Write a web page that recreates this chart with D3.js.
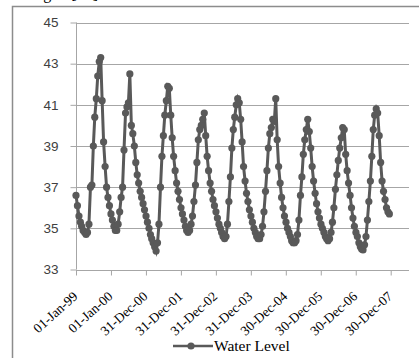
<!DOCTYPE html>
<html>
<head>
<meta charset="utf-8">
<script src="https://cdn.jsdelivr.net/npm/d3@7"></script>
<style>
  body { margin: 0; background: #fff; }
  svg { display: block; }
</style>
</head>
<body>
<svg id="chart"></svg>
<script>
// readings on the 1st and 16th of every month, Jan..Dec
var level1999 = [36.6, 36.1, 35.6, 35.3, 35.1, 34.9, 34.8, 34.7, 34.8, 35.2, 37.0, 37.1,
                 39.0, 40.4, 41.3, 42.4, 43.1, 43.3, 41.2, 39.2, 38.0, 37.0, 36.5, 36.1];
var level2000 = [35.7, 35.4, 35.1, 34.9, 34.9, 35.2, 35.8, 36.5, 37.0, 38.8, 40.6, 40.9,
                 41.1, 42.5, 40.0, 39.6, 39.0, 38.2, 37.6, 37.2, 36.8, 36.5, 36.2, 35.9];
var level2001 = [35.6, 35.3, 35.0, 34.7, 34.5, 34.3, 34.1, 33.9, 34.3, 35.2, 37.0, 38.5,
                 39.5, 40.5, 41.2, 41.9, 41.8, 40.5, 39.4, 38.5, 37.8, 37.2, 36.8, 36.4];
var level2002 = [36.0, 35.7, 35.4, 35.1, 34.9, 34.8, 34.9, 35.2, 35.6, 36.3, 37.1, 38.2,
                 39.3, 39.8, 40.0, 40.3, 40.6, 39.5, 38.5, 37.8, 37.2, 36.8, 36.4, 36.1];
var level2003 = [35.8, 35.5, 35.2, 35.0, 34.8, 34.6, 34.5, 34.6, 35.2, 36.3, 37.5, 38.9,
                 39.8, 40.4, 41.0, 41.3, 41.1, 40.3, 39.2, 38.0, 37.3, 36.7, 36.3, 35.9];
var level2004 = [35.6, 35.3, 35.0, 34.8, 34.6, 34.5, 34.5, 34.7, 35.1, 35.8, 36.8, 37.8,
                 38.9, 39.6, 39.9, 40.3, 40.2, 41.3, 39.3, 38.0, 37.2, 36.5, 36.0, 35.6];
var level2005 = [35.3, 35.0, 34.8, 34.6, 34.4, 34.3, 34.3, 34.4, 34.7, 35.4, 36.6, 37.5,
                 38.6, 39.3, 39.8, 40.3, 39.7, 38.9, 38.0, 37.3, 36.7, 36.2, 35.8, 35.5];
var level2006 = [35.2, 35.0, 34.8, 34.6, 34.5, 34.4, 34.5, 34.8, 35.3, 36.0, 36.9, 37.6,
                 38.3, 38.9, 39.4, 39.9, 39.8, 38.6, 37.8, 37.2, 36.6, 36.0, 35.5, 35.1];
var level2007 = [34.8, 34.6, 34.3, 34.1, 34.0, 33.95, 34.2, 34.6, 35.4, 36.3, 37.3, 38.5,
                 39.8, 40.5, 40.8, 40.6, 39.5, 38.2, 37.3, 36.8, 36.4, 36.0, 35.8, 35.7];

var years = [1999, 2000, 2001, 2002, 2003, 2004, 2005, 2006, 2007];
var levelsByYear = [level1999, level2000, level2001, level2002, level2003,
                    level2004, level2005, level2006, level2007];

var xTickLabels = ["01-Jan-99", "01-Jan-00", "31-Dec-00", "31-Dec-01", "31-Dec-02",
                   "31-Dec-03", "30-Dec-04", "30-Dec-05", "30-Dec-06", "30-Dec-07"];
var yTicks = [33, 35, 37, 39, 41, 43, 45];
var seriesName = "Water Level";

var width = 419, height = 358;
var svg = d3.select("#chart").attr("width", width).attr("height", height);

// build the point table
var data = [];
years.forEach(function(yr, k) {
    levelsByYear[k].forEach(function(v, i) {
        data.push({ date: new Date(yr, Math.floor(i / 2), i % 2 ? 16 : 1), value: v });
    });
});

var parse = d3.timeParse("%d-%b-%y");
var tickDates = xTickLabels.map(function(s) { return parse(s); });
var start = tickDates[0];

var x = d3.scaleTime()
    .domain([start, d3.timeDay.offset(start, 3476)])
    .range([76, 409]);
var y = d3.scaleLinear()
    .domain([33, 45])
    .range([269.5, 22.5]);

// chart area border (partly cut off)
svg.append("path")
    .attr("d", "M12.5," + height + "V6.5H" + width)
    .attr("fill", "none")
    .attr("stroke", "#8c8c8c")
    .attr("stroke-width", 1.5);

// caption above the chart, only its descenders are visible
svg.append("text")
    .attr("x", 30).attr("y", -1)
    .style("font-family", "'Liberation Serif', 'Times New Roman', serif")
    .style("font-size", "16px")
    .text("Fig. 7          [13].");

// gridlines
svg.append("g")
    .selectAll("line")
    .data(yTicks.slice(1))
    .join("line")
    .attr("x1", 76).attr("x2", 409)
    .attr("y1", function(d) { return Math.round(y(d)) + 0.5; })
    .attr("y2", function(d) { return Math.round(y(d)) + 0.5; })
    .attr("stroke", "#a6a6a6")
    .attr("stroke-width", 1);

// Y axis
var yAxis = svg.append("g")
    .attr("transform", "translate(76.5,0)")
    .call(d3.axisLeft(y).tickValues(yTicks).tickSize(6).tickPadding(12).tickFormat(d3.format("d")));
yAxis.select(".domain").attr("stroke", "#a6a6a6").attr("d", "M0," + y(45) + "V" + y(33));
yAxis.selectAll(".tick line").attr("stroke", "#a6a6a6");
yAxis.selectAll(".tick text")
    .attr("fill", "#404040")
    .style("font-family", "'Liberation Sans', Arial, sans-serif")
    .style("font-size", "13.5px");

// X axis
var xAxis = svg.append("g")
    .attr("transform", "translate(0," + (Math.round(y(33)) + 0.5) + ")")
    .call(d3.axisBottom(x).tickValues(tickDates).tickSize(5)
        .tickFormat(function(d, i) { return xTickLabels[i]; }));
xAxis.select(".domain").attr("stroke", "#a6a6a6").attr("d", "M76,0H409");
xAxis.selectAll(".tick line").attr("stroke", "#a6a6a6");
xAxis.selectAll(".tick text")
    .attr("fill", "#000")
    .style("font-family", "'Liberation Serif', 'Times New Roman', serif")
    .style("font-size", "13.5px")
    .attr("text-anchor", "end")
    .attr("dy", null)
    .attr("y", 0)
    .attr("transform", "translate(2,27) rotate(-42)");

// series line and markers
var color = "#595959";
svg.append("path")
    .datum(data)
    .attr("fill", "none")
    .attr("stroke", color)
    .attr("stroke-width", 3)
    .attr("d", d3.line()
        .x(function(d) { return x(d.date); })
        .y(function(d) { return y(d.value); }));

svg.append("g")
    .selectAll("circle")
    .data(data)
    .join("circle")
    .attr("cx", function(d) { return x(d.date); })
    .attr("cy", function(d) { return y(d.value); })
    .attr("r", 3.6)
    .attr("fill", color);

// legend
var legend = svg.append("g").attr("transform", "translate(173,346)");
legend.append("line")
    .attr("x1", 0).attr("x2", 40)
    .attr("stroke", color).attr("stroke-width", 2.5);
legend.append("circle").attr("cx", 18).attr("r", 3.6).attr("fill", color);
legend.append("text")
    .attr("x", 41).attr("y", 5)
    .style("font-family", "'Liberation Serif', 'Times New Roman', serif")
    .style("font-size", "15.5px")
    .text(seriesName);
</script>
</body>
</html>
